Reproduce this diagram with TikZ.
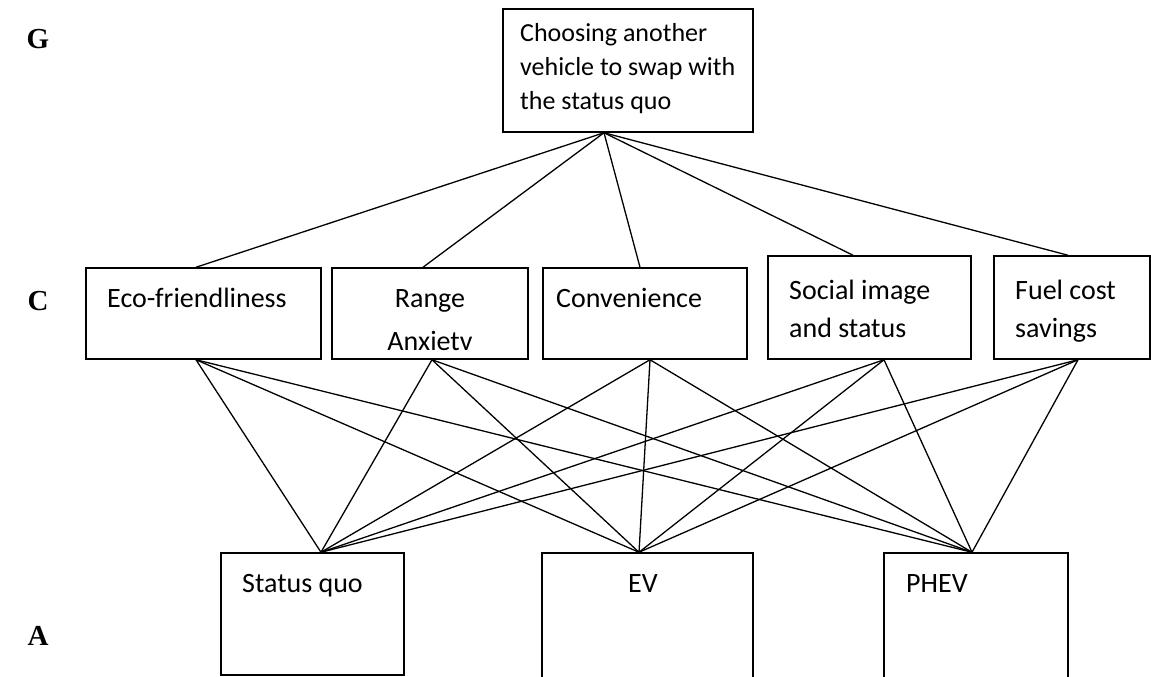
\documentclass[tikz,border=0pt]{standalone}
\usepackage{fontspec}
\setmainfont{Carlito}
\newfontfamily\levelfont{Liberation Serif}

\begin{document}
\begin{tikzpicture}[x=1pt,y=-1pt,
    box/.style={draw, line width=1.5pt, inner sep=0pt},
    txt/.style={anchor=base west, inner sep=0pt, font=\fontsize{28}{34}\selectfont},
    ctxt/.style={txt, anchor=base},
    gtxt/.style={txt, font=\fontsize{26}{34}\selectfont},
    lvl/.style={font=\levelfont\bfseries\fontsize{29}{34}\selectfont},
    link/.style={line width=1.3pt}]
    \clip (0,0) rectangle (1151,677);

    % Niveaux
    \node[lvl] (lvlG) at (38,39) {G};
    \node[lvl] (lvlC) at (38,301) {C};
    \node[lvl] (lvlA) at (38,636) {A};

    % But
    \node[box, minimum width=250, minimum height=123] (goal) at (628,70.5) {};
    \node[gtxt] (goal1) at (520,42) {Choosing another};
    \node[gtxt] (goal2) at (520,76) {vehicle to swap with};
    \node[gtxt] (goal3) at (520,110) {the status quo};

    % Criteres
    \node[box, minimum width=235, minimum height=91] (eco) at (203.5,313.5) {};
    \node[box, minimum width=196, minimum height=91] (range) at (430,313.5) {};
    \node[box, minimum width=204, minimum height=91] (conv) at (645,313.5) {};
    \node[box, minimum width=203, minimum height=103] (soc) at (869.5,307.5) {};
    \node[box, minimum width=156, minimum height=103] (fuel) at (1072,307.5) {};

    \node[txt] (eco1) at (107,307) {Eco-friendliness};
    \node[ctxt] (range1) at (430,307) {Range};
    \node[ctxt] (range2) at (430,350) {Anxietv};
    \node[txt] (conv1) at (556,307) {Convenience};
    \node[txt] (soc1) at (789,299) {Social image};
    \node[txt] (soc2) at (789,337) {and status};
    \node[txt] (fuel1) at (1015,299) {Fuel cost};
    \node[txt] (fuel2) at (1015,337) {savings};

    % Alternatives
    \node[box, minimum width=183, minimum height=122] (sq) at (312.5,614) {};
    \node[box, minimum width=211, minimum height=147] (ev) at (647.5,626.5) {};
    \node[box, minimum width=184, minimum height=147] (phev) at (976,626.5) {};

    \node[txt] (sq1) at (242,592) {Status quo};
    \node[ctxt] (ev1) at (643,592) {EV};
    \node[txt] (phev1) at (906,592) {PHEV};

    % Points d'attache
    \coordinate (goal-b) at ([xshift=-24]goal.south);
    \coordinate (eco-t) at ([xshift=-7.5]eco.north);
    \coordinate (eco-b) at ([xshift=-7.5]eco.south);
    \coordinate (range-t) at ([xshift=-7]range.north);
    \coordinate (range-b) at ([xshift=2]range.south);
    \coordinate (conv-t) at ([xshift=-5]conv.north);
    \coordinate (conv-b) at ([xshift=5]conv.south);
    \coordinate (soc-t) at ([xshift=-16.5]soc.north);
    \coordinate (soc-b) at ([xshift=14.5]soc.south);
    \coordinate (fuel-t) at ([xshift=-4]fuel.north);
    \coordinate (fuel-b) at ([xshift=6]fuel.south);
    \coordinate (sq-t) at ([xshift=8.5]sq.north);
    \coordinate (ev-t) at ([xshift=-8.5]ev.north);
    \coordinate (phev-t) at ([xshift=-4]phev.north);

    % Liens
    \foreach \c in {eco,range,conv,soc,fuel}
        \draw[link] (goal-b) -- (\c-t);
    \foreach \c in {eco,range,conv,soc,fuel}
        \foreach \a in {sq,ev,phev}
            \draw[link] (\c-b) -- (\a-t);
\end{tikzpicture}
\end{document}
